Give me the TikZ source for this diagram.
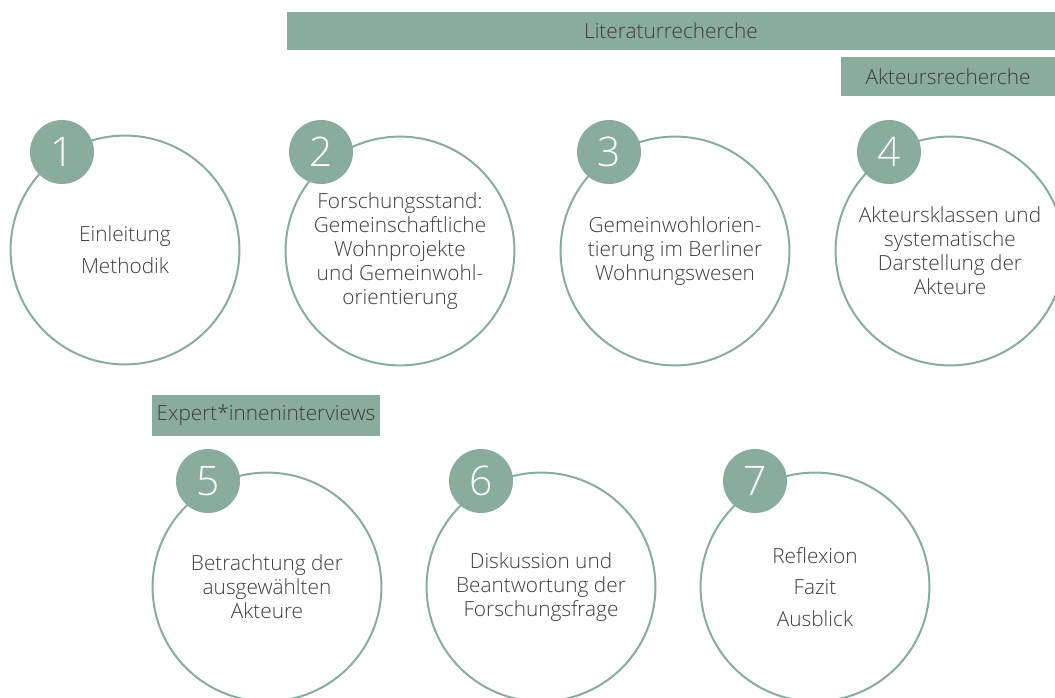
\documentclass[tikz,border=0pt]{standalone}
\usepackage{fontspec}
\setmainfont{Open Sans}[UprightFont=* Light]
\definecolor{sage}{HTML}{8AAC9E}
\definecolor{ink}{HTML}{3C3C3C}
\tikzset{
  chapter/.style={circle,draw=sage,line width=0.05cm,minimum size=5.72cm,align=center,text=ink,
    font=\fontsize{14.8}{17}\selectfont},
  badge/.style={circle,fill=sage,minimum size=1.6cm,inner sep=0pt,text=white,
    font=\fontsize{29}{29}\selectfont},
  phase/.style={fill=sage,inner sep=0pt,text=ink,font=\fontsize{14.8}{17}\selectfont},
}
\begin{document}
\begin{tikzpicture}[x=0.025cm,y=-0.025cm]
\useasboundingbox (0,0) rectangle (1055,698);
\clip (0,0) rectangle (1055,698);
% research phases
\node[phase,minimum width=19.2cm,minimum height=0.95cm] (lit) at (671,31) {Literaturrecherche};
\node[phase,minimum width=5.35cm,minimum height=0.975cm] (akt) at (948,76.5) {Akteursrecherche};
\node[phase,minimum width=5.7cm,minimum height=1.025cm] (exp) at (266,415.5) {Expert*inneninterviews};
% chapters, first row
\node[chapter] (c1) at (125,250) {Einleitung\\[5.5pt]Methodik};
\node[chapter] (c2) at (400,251) {Forschungsstand:\\Gemeinschaftliche\\Wohnprojekte\\und Gemeinwohl-\\orientierung};
\node[chapter] (c3) at (675,251) {Gemeinwohlorien-\\tierung im Berliner\\Wohnungswesen};
\node[chapter] (c4) at (950,251) {Akteursklassen und\\systematische\\Darstellung der\\Akteure};
% chapters, second row
\node[chapter] (c5) at (267,587) {Betrachtung der\\ausgewählten\\Akteure};
\node[chapter] (c6) at (541,587) {Diskussion und\\Beantwortung der\\Forschungsfrage};
\node[chapter] (c7) at (815,587) {Reflexion\\[5.5pt]Fazit\\[5.5pt]Ausblick};
% numbers
\node[badge] (b1) at (62,152) {1};
\node[badge] (b2) at (321,152) {2};
\node[badge] (b3) at (609,152) {3};
\node[badge] (b4) at (889,152) {4};
\node[badge] (b5) at (208,481) {5};
\node[badge] (b6) at (481,481) {6};
\node[badge] (b7) at (755,481) {7};
\end{tikzpicture}
\end{document}
